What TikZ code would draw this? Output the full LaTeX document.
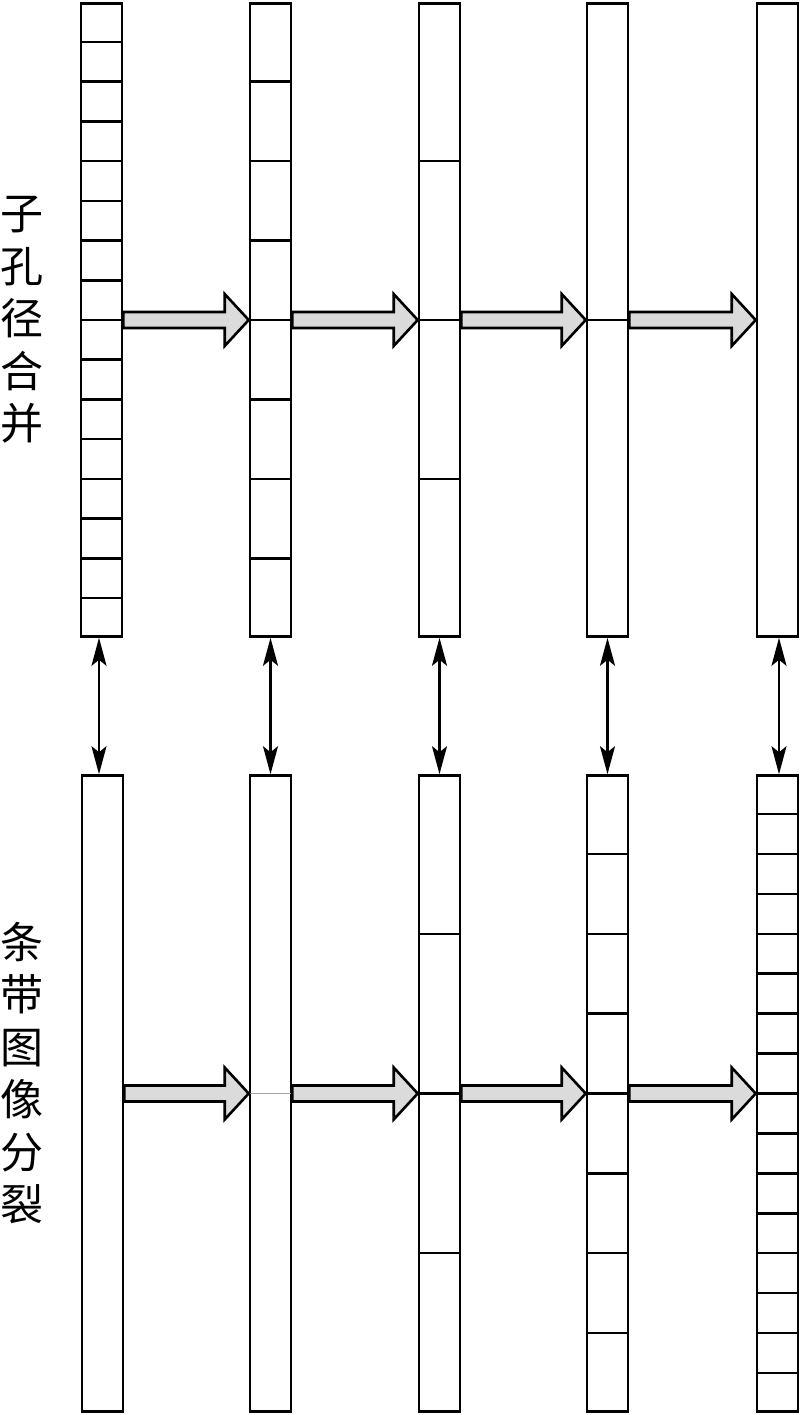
\documentclass[tikz,border=0pt]{standalone}
\usepackage{fontspec}
\newfontfamily\cjk{Noto Sans CJK SC}
\usetikzlibrary{calc,arrows.meta}
\tikzset{
  bar/.style={draw=black, line width=2.6pt, fill=white, inner sep=0pt, minimum width=41pt, rectangle},
  topbar/.style={bar, minimum height=633pt},
  botbar/.style={bar, minimum height=636pt},
  seg/.style={draw=black, line width=2.6pt},
  thinseg/.style={draw=gray!70, line width=1.6pt},
  fatarr/.style={draw=black, line width=2.6pt, fill=gray!28, line join=miter},
  dblarr/.style={draw=black, line width=2.3pt, {Stealth[length=28pt,width=15pt,inset=6pt]}-{Stealth[length=28pt,width=15pt,inset=6pt]}},
  vlabel/.style={font=\cjk\fontsize{43pt}{52.5pt}\selectfont, align=center, inner sep=0pt}
}
\newcommand{\fatarrow}[2]{%
  \draw[fatarr] ($(#1.east)+(0,-8)$) -- ($(#2.west)+(-24,-8)$) -- ($(#2.west)+(-24,-26)$)
    -- (#2.west) -- ($(#2.west)+(-24,26)$) -- ($(#2.west)+(-24,8)$) -- ($(#1.east)+(0,8)$) -- cycle;}
\newcommand{\barsplit}[3]{%
  \foreach \i in {1,...,#3}{
    \draw[seg] ($(#1.north west)!{\i/#2}!(#1.south west)$) -- ($(#1.north east)!{\i/#2}!(#1.south east)$);}}
\begin{document}
\begin{tikzpicture}[x=1pt,y=-1pt]
\useasboundingbox (0,0) rectangle (800,1415);
% top bars
\node[topbar] (t1) at (101.5,320) {};
\node[topbar] (t2) at (270.5,320) {};
\node[topbar] (t3) at (439.5,320) {};
\node[topbar] (t4) at (607.5,320) {};
\node[topbar] (t5) at (777.5,320) {};
% bottom bars
\node[botbar] (b1) at (102.5,1093.5) {};
\node[botbar] (b2) at (270.5,1093.5) {};
\node[botbar] (b3) at (439.5,1093.5) {};
\node[botbar] (b4) at (607.5,1093.5) {};
\node[botbar] (b5) at (777.5,1093.5) {};
% divisions
\barsplit{t1}{16}{15}
\barsplit{t2}{8}{7}
\barsplit{t3}{4}{3}
\draw[seg, line width=2pt] (t4.west) -- (t4.east);
\draw[thinseg] (b2.west) -- (b2.east);
\barsplit{b3}{4}{3}
\barsplit{b4}{8}{7}
\barsplit{b5}{16}{15}
% fat arrows
\fatarrow{t1}{t2}
\fatarrow{t2}{t3}
\fatarrow{t3}{t4}
\fatarrow{t4}{t5}
\fatarrow{b1}{b2}
\fatarrow{b2}{b3}
\fatarrow{b3}{b4}
\fatarrow{b4}{b5}
% double arrows
\draw[dblarr] ([xshift=-2.5pt]t1.south) -- ([xshift=-3.5pt]b1.north);
\draw[dblarr] (t2.south) -- (b2.north);
\draw[dblarr] (t3.south) -- (b3.north);
\draw[dblarr] (t4.south) -- (b4.north);
\draw[dblarr] ([xshift=1.5pt]t5.south) -- ([xshift=1.5pt]b5.north);
% labels
\node[vlabel] (lt) at (22,320) {子\\孔\\径\\合\\并};
\node[vlabel] (lb) at (22,1073) {条\\带\\图\\像\\分\\裂};
\end{tikzpicture}
\end{document}
